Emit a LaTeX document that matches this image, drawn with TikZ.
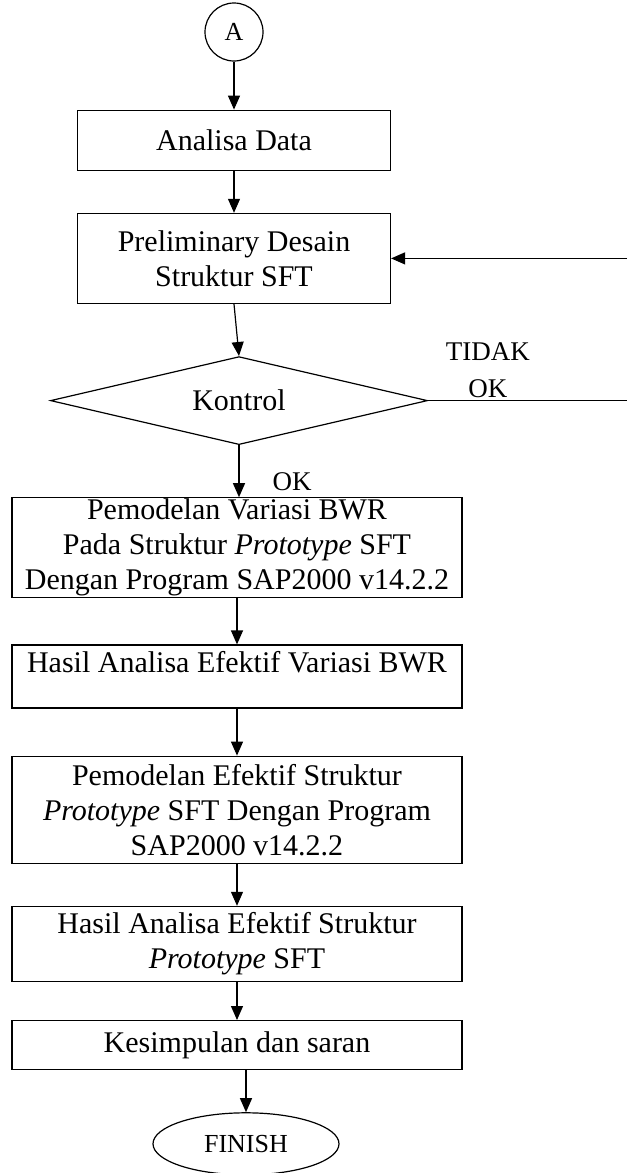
\documentclass[tikz,border=0pt]{standalone}
\usepackage{fontspec}
\setmainfont{Liberation Serif}
\usetikzlibrary{arrows.meta,positioning,shapes.geometric}

\begin{document}
\begin{tikzpicture}[
  x=1pt, y=1pt,
  >={Triangle[length=14pt,width=12pt]},
  font=\fontsize{30}{35}\selectfont,
  node distance=42pt,
  stepbox/.style={draw, line width=1.2pt, align=center, inner sep=3pt},
  wide/.style={stepbox, minimum width=450pt},
  narrow/.style={stepbox, minimum width=313pt},
  line/.style={->, line width=1.2pt},
  smalltext/.style={font=\fontsize{27}{37}\selectfont, align=center},
  connector/.style={draw, circle, line width=1.2pt, minimum size=58pt, inner sep=0pt, font=\fontsize{26}{30}\selectfont},
  decision/.style={draw, diamond, shape aspect=4.3, line width=1.2pt, minimum width=377pt, minimum height=88pt, inner sep=0pt},
  terminal/.style={draw, ellipse, line width=1.2pt, minimum width=186pt, minimum height=62pt, inner sep=0pt, font=\fontsize{26}{30}\selectfont}
]
  \useasboundingbox (0,0) rectangle (627,-1173);

  \node[connector] (a) at (234,-32) {A};
  \node[narrow, minimum height=60pt, below=48pt of a] (analisa) {Analisa Data};
  \node[narrow, minimum height=90pt, below=of analisa] (prelim) {Preliminary Desain\\Struktur SFT};
  \node[decision, below=52pt of prelim, xshift=5pt] (kontrol) {Kontrol};
  \node[wide, inner ysep=1pt, minimum height=100pt, below=52pt of kontrol, xshift=-2pt] (bwr) {Pemodelan Variasi BWR\\Pada Struktur \textit{Prototype} SFT\\Dengan Program SAP2000 v14.2.2};
  \node[wide, inner ysep=0pt, text height=27pt, text depth=36pt, below=46pt of bwr] (hasilbwr) {Hasil Analisa Efektif Variasi BWR};
  \node[wide, minimum height=107pt, below=47pt of hasilbwr] (efektif) {Pemodelan Efektif Struktur\\\textit{Prototype} SFT Dengan Program\\SAP2000 v14.2.2};
  \node[wide, minimum height=75pt, below=of efektif] (hasilsft) {Hasil Analisa Efektif Struktur\\\textit{Prototype} SFT};
  \node[wide, minimum height=49pt, below=38pt of hasilsft] (kesimpulan) {Kesimpulan dan saran};
  \node[terminal, below=42pt of kesimpulan, xshift=9pt] (finish) {FINISH};

  % loop back on the right edge
  \coordinate (edge) at (627,0);
  \coordinate (tidakend) at (kontrol.east -| edge);
  \coordinate (backstart) at (prelim.east -| edge);

  \draw[line] (a) -- (analisa);
  \draw[line] (analisa) -- (prelim);
  \draw[line] (prelim.south) -- (kontrol.north);
  \draw[line] (kontrol.south) -- node[pos=0.7, right=33pt, inner sep=0pt, smalltext] {OK} (kontrol.south |- bwr.north);
  \draw[line width=1.2pt] (kontrol.east) -- node[pos=0.3, above=2pt, inner sep=0pt, smalltext] {TIDAK\\OK} (tidakend);
  \draw[line] (backstart) -- (prelim.east);
  \draw[line] (bwr) -- (hasilbwr);
  \draw[line] (hasilbwr) -- (efektif);
  \draw[line] (efektif) -- (hasilsft);
  \draw[line] (hasilsft) -- (kesimpulan);
  \draw[line] (kesimpulan.south -| finish.north) -- (finish.north);
\end{tikzpicture}
\end{document}
